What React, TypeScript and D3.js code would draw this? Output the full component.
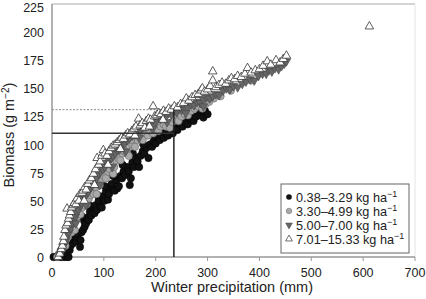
import React from "react";
import * as d3 from "d3";

const xTicks = [0, 100, 200, 300, 400, 500, 600, 700];
const yTicks = [0, 25, 50, 75, 100, 125, 150, 175, 200, 225];

const legendLabels = ["0.38–3.29 kg ha", "3.30–4.99 kg ha", "5.00–7.00 kg ha", "7.01–15.33 kg ha"];

const blackPts: [number, number][] = [
  [3,0],[8,0],[13,0],[18,0],[24,0],[29,0],[32,0],[27,4],[34,6],[36,10],[40,12],[42,16],[46,14],[48,18],[50,20],[54,9],[55,15],[57,22],[60,24],[63,27],[62,32],[66,30],[68,35],[71,33],[73,40],[76,37],[79,44],[82,39],[84,46],[87,42],[90,50],[93,45],[96,44],[98,54],[101,50],[104,58],[108,51],[110,56],[112,62],[115,65],[118,60],[121,59],[124,68],[126,61],[129,63],[132,72],[135,70],[138,76],[141,73],[145,80],[148,76],[150,64],[152,70],[155,84],[158,80],[162,88],[165,85],[168,80],[171,90],[175,94],[178,92],[182,97],[186,88],[189,100],[193,98],[196,103],[200,101],[204,106],[208,104],[212,108],[216,106],[220,110],[224,108],[228,113],[233,110],[237,115],[242,113],[247,118],[252,116],[257,120],[262,118],[268,122],[273,121],[278,125],[284,126],[288,128],[292,124],[295,130],[300,127],
  [58,36],[72,46],[88,55],[102,63],[118,72],[136,82],[156,92],[176,100],[198,108],[218,114],[240,120],[265,125],[285,131]
];

const greyPts: [number, number][] = [
  [10,0],[14,3],[17,6],[20,8],[23,12],[26,10],[28,16],[31,18],[34,22],[38,22],[40,28],[43,30],[46,34],[49,36],[52,40],[55,38],[58,44],[61,46],[64,48],[67,47],[71,52],[74,55],[77,58],[80,56],[84,62],[88,66],[92,64],[96,70],[100,72],[104,70],[108,76],[112,78],[116,82],[120,80],[124,86],[128,88],[132,86],[136,92],[140,94],[145,92],[150,98],[155,100],[160,98],[165,104],[170,106],[175,104],[180,110],[185,108],[190,112],[195,110],[200,114],[205,112],[210,116],[215,118],[220,116],[227,115],[232,120],[238,122],[244,121],[250,125],[256,127],[262,126],[268,130],[275,132],[282,134],[290,132],[296,136],[303,138],[312,141],[325,143],[345,148],[384,157],
  [36,32],[56,50],[78,66],[98,80],[126,94],[152,104],[178,115],[204,121],[236,127],[270,135],[44,24],[86,56],[118,74],[148,90]
];

const downPts: [number, number][] = [
  [15,2],[18,5],[21,9],[24,12],[27,15],[30,20],[33,22],[36,26],[39,30],[42,33],[45,36],[48,40],[51,42],[54,46],[57,48],[60,52],[63,54],[67,56],[70,58],[74,62],[78,64],[82,68],[86,70],[90,74],[94,76],[98,78],[102,80],[106,84],[110,86],[114,88],[118,90],[122,92],[126,95],[130,96],[135,99],[140,101],[145,104],[150,106],[155,108],[160,109],[165,112],[170,113],[175,115],[180,116],[185,118],[190,119],[195,121],[200,120],[205,124],[210,123],[215,126],[220,125],[225,128],[230,127],[235,130],[240,129],[245,132],[250,131],[256,134],[262,133],[268,136],[274,135],[280,138],[286,137],[292,140],[298,142],[304,141],[310,143],[316,145],[322,144],[330,148],[336,150],[343,149],[350,152],[358,151],[367,154],[374,156],[382,158],[390,157],[398,161],[406,163],[413,163],[418,166],[424,165],[430,168],[437,167],[443,170],[448,172],[452,174],
  [46,30],[66,46],[92,64],[116,80],[142,94],[168,106],[194,114],[222,120],[258,128],[292,134]
];

const whitePts: [number, number][] = [
  [12,0],[15,3],[18,7],[20,10],[22,14],[23,18],[25,24],[27,28],[29,43],[30,30],[32,34],[34,37],[36,40],[38,44],[41,46],[43,48],[46,47],[48,52],[52,50],[54,56],[58,57],[60,59],[63,62],[66,60],[69,65],[72,68],[76,70],[80,74],[84,78],[87,88],[90,82],[93,85],[96,90],[99,95],[102,92],[106,90],[110,94],[114,97],[118,99],[122,100],[126,102],[130,104],[134,106],[138,105],[142,108],[146,110],[150,109],[154,112],[158,114],[162,116],[167,123],[170,117],[174,119],[179,115],[182,121],[186,123],[190,122],[195,134],[198,125],[202,126],[206,128],[210,127],[215,130],[220,129],[225,132],[230,131],[236,134],[242,133],[248,136],[254,137],[259,141],[264,139],[270,142],[276,144],[282,145],[287,148],[290,150],[294,147],[300,149],[305,152],[310,157],[310,165],[316,151],[322,153],[328,155],[335,154],[341,157],[346,159],[352,158],[358,161],[365,160],[372,163],[377,168],[384,164],[392,166],[400,167],[407,170],[415,174],[422,171],[432,175],[440,173],[446,176],[452,179],[612,205],
  [62,50],[82,64],[108,82],[132,96],[160,108],[188,116],[214,122]
];

const refX = 235;
const refYSolid = 110;
const refYDotted = 131;

const W = 426, H = 299;
const FONT = "'Liberation Sans', Arial, Helvetica, sans-serif";

const x = d3.scaleLinear().domain([0, 700]).range([52, 415]);
const y = d3.scaleLinear().domain([0, 225]).range([257, 4]);

export default function App() {
  const upD = d3.symbol().type(d3.symbolTriangle).size(32)() as string;
  const smallD = d3.symbol().type(d3.symbolTriangle).size(20)() as string;
  return (
    <svg width={W} height={H} style={{ position: "absolute", left: 0, top: 0, background: "#fff" }} fontFamily={FONT}>
      <rect x={0} y={0} width={W} height={H} fill="#fff" />
      <line x1={x(0)} x2={x(700)} y1={y(225)} y2={y(225)} stroke="#aaa" strokeWidth={1} />
      <line x1={x(700)} x2={x(700)} y1={y(225)} y2={y(0)} stroke="#e4e4e4" strokeWidth={1} />
      <line x1={x(0)} x2={x(0)} y1={y(225)} y2={y(0)} stroke="#999" strokeWidth={1.5} />
      <line x1={x(0)} x2={x(700)} y1={y(0)} y2={y(0)} stroke="#999" strokeWidth={1.5} />
      {xTicks.map((t) => (
        <g key={"xt" + t}>
          <line x1={x(t)} x2={x(t)} y1={y(0)} y2={y(0) + 4} stroke="#999" />
          <text x={x(t)} y={y(0) + 20} fontSize={12.5} textAnchor="middle" fill="#222">{t}</text>
        </g>
      ))}
      {yTicks.map((t) => (
        <text key={"yt" + t} x={44} y={Math.max(y(t) + 5, 12)} fontSize={12.5} textAnchor="end" fill="#222">{t}</text>
      ))}
      <text x={232} y={292} fontSize={14.5} textAnchor="middle" fill="#222">Winter precipitation (mm)</text>
      <text transform={`translate(14,${135}) rotate(-90)`} fontSize={14.5} textAnchor="middle" fill="#222">
        Biomass (g m<tspan dy={-5} fontSize={10}>−2</tspan><tspan dy={5}>)</tspan>
      </text>

      <line x1={x(0)} x2={x(refX)} y1={y(refYDotted)} y2={y(refYDotted)} stroke="#888" strokeWidth={1} strokeDasharray="2,1.5" />

      <g>
        {blackPts.map((p, i) => (
          <circle key={"b" + i} cx={x(p[0])} cy={y(p[1])} r={3.7} fill="#111" stroke="#000" strokeWidth={0.5} />
        ))}
      </g>
      <g>
        {greyPts.map((p, i) => (
          <circle key={"g" + i} cx={x(p[0])} cy={y(p[1])} r={3.7} fill="#a9a9a9" stroke="#666" strokeWidth={0.6} />
        ))}
      </g>
      <g>
        {downPts.map((p, i) => (
          <path key={"d" + i} d={upD} transform={`translate(${x(p[0])},${y(p[1])}) rotate(180)`} fill="#666" stroke="#444" strokeWidth={0.6} />
        ))}
      </g>
      <g>
        {whitePts.map((p, i) => (
          <path key={"w" + i} d={upD} transform={`translate(${x(p[0])},${y(p[1])})`} fill="#fff" stroke="#333" strokeWidth={0.8} />
        ))}
      </g>

      <line x1={x(0)} x2={x(refX)} y1={y(refYSolid)} y2={y(refYSolid)} stroke="#333" strokeWidth={1.5} />
      <line x1={x(refX)} x2={x(refX)} y1={y(0)} y2={y(refYDotted)} stroke="#222" strokeWidth={1.5} />

      <rect x={281} y={184} width={128} height={69} fill="#fff" stroke="#666" strokeWidth={1} />
      {legendLabels.map((lab, i) => {
        const ly = 197 + i * 14;
        const sx = 289;
        let sym;
        if (i === 0) sym = <circle cx={sx} cy={ly} r={2.8} fill="#111" />;
        else if (i === 1) sym = <circle cx={sx} cy={ly} r={2.8} fill="#a9a9a9" stroke="#666" strokeWidth={0.5} />;
        else if (i === 2) sym = <path d={smallD} transform={`translate(${sx},${ly}) rotate(180)`} fill="#666" stroke="#444" strokeWidth={0.5} />;
        else sym = <path d={smallD} transform={`translate(${sx},${ly})`} fill="#fff" stroke="#333" strokeWidth={0.7} />;
        return (
          <g key={"lg" + i}>
            {sym}
            <text x={296} y={ly + 4.5} fontSize={12.7} fill="#222">
              {lab}<tspan dy={-5} fontSize={9}>−1</tspan>
            </text>
          </g>
        );
      })}
    </svg>
  );
}
